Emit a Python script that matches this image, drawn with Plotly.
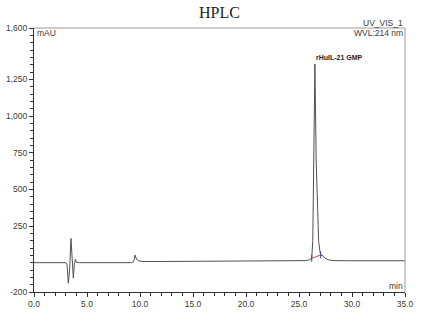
import plotly.graph_objects as go

# Chromatogram (time in min, signal in mAU)
time_min = [0.0, 3.0, 3.12, 3.24, 3.36, 3.49, 3.6, 3.71, 3.8, 3.9, 4.02, 4.3,
            9.2, 9.4, 9.53, 9.68, 9.9, 10.3, 12.0, 15.0, 20.0, 25.0, 25.7,
            26.0, 26.2, 26.3, 26.38, 26.5, 26.62, 26.75, 26.85, 26.95, 27.05,
            27.2, 27.45, 27.77, 28.2, 30.0, 35.0]
signal_mau = [0, 0, -15, -140, -50, 165, 30, -105, -20, 22, 2, 0,
              0, 6, 52, 22, 12, 8, 8, 9, 10, 10, 14,
              20, 30, 150, 700, 1355, 700, 300, 150, 90, 48,
              52, 30, 20, 14, 13, 13]

# Integration baseline of the main peak
base_time = [26.2, 27.05]
base_mau = [30, 53]

peak_label = "rHuIL-21 GMP"
peak_time = 26.5
peak_height = 1355

y_tickvals = [1600, 1250, 1000, 750, 500, 250, -200]
y_ticktext = ["1,600", "1,250", "1,000", "750", "500", "250", "-200"]
x_tickvals = [0, 5, 10, 15, 20, 25, 30, 35]
x_ticktext = ["0.0", "5.0", "10.0", "15.0", "20.0", "25.0", "30.0", "35.0"]

tick_font = dict(family="Liberation Sans, Arial, sans-serif", size=8.5, color="#3a3a3a")

fig = go.Figure()
fig.add_trace(go.Scatter(x=time_min, y=signal_mau, mode="lines",
                         line=dict(color="#505050", width=1), hoverinfo="skip"))
fig.add_trace(go.Scatter(x=base_time, y=base_mau, mode="lines+markers",
                         line=dict(color="#e04040", width=1),
                         marker=dict(symbol="line-ns", size=5, color="#4040a0",
                                     line=dict(width=1, color="#4040a0")),
                         hoverinfo="skip"))

fig.update_layout(
    width=424, height=322,
    margin=dict(l=34, r=19, t=28, b=30, autoexpand=False),
    paper_bgcolor="white", plot_bgcolor="white",
    showlegend=False,
    xaxis=dict(range=[0, 35], tickvals=x_tickvals, ticktext=x_ticktext,
               ticks="outside", ticklen=4, tickcolor="#333333", tickwidth=1,
               showline=True, linecolor="#333333", linewidth=1, automargin=False,
               showgrid=False, zeroline=False, tickfont=tick_font,
               minor=dict(dtick=1, ticks="outside", ticklen=3, tickcolor="#333333", showgrid=False)),
    yaxis=dict(range=[-200, 1600], tickvals=y_tickvals, ticktext=y_ticktext,
               ticks="outside", ticklen=4, tickcolor="#333333", tickwidth=1,
               showline=True, linecolor="#333333", linewidth=1, automargin=False,
               showgrid=False, zeroline=False, tickfont=tick_font,
               minor=dict(tick0=0, dtick=50, ticks="outside", ticklen=3, tickcolor="#333333", showgrid=False)),
    shapes=[
        dict(type="line", xref="paper", yref="paper", x0=0, x1=1, y0=1, y1=1,
             line=dict(color="#999999", width=1)),
        dict(type="line", xref="paper", yref="paper", x0=1, x1=1, y0=0, y1=1,
             line=dict(color="#999999", width=1)),
    ],
)

lab_font = dict(family="Liberation Sans, Arial, sans-serif", size=8.5, color="#3a3a3a")
fig.add_annotation(text="HPLC", xref="paper", yref="paper", x=0.5, y=1, yshift=16,
                   showarrow=False, xanchor="center", yanchor="middle",
                   font=dict(family="Liberation Serif, Times New Roman, serif", size=16, color="#222222"))
fig.add_annotation(text="UV_VIS_1", xref="paper", yref="paper", x=1, y=1, yshift=5,
                   showarrow=False, xanchor="right", yanchor="middle", font=lab_font)
fig.add_annotation(text="WVL:214 nm", xref="paper", yref="paper", x=1, y=1, yshift=-5,
                   showarrow=False, xanchor="right", yanchor="middle", font=lab_font)
fig.add_annotation(text="mAU", xref="paper", yref="paper", x=0, y=1, yshift=-5, xshift=1,
                   showarrow=False, xanchor="left", yanchor="middle", font=lab_font)
fig.add_annotation(text="min", xref="paper", yref="paper", x=1, y=0, yshift=6,
                   showarrow=False, xanchor="right", yanchor="middle", font=lab_font)
fig.add_annotation(text="<b>" + peak_label + "</b>", x=peak_time, y=peak_height,
                   xref="x", yref="y", yshift=1, xshift=-1,
                   showarrow=False, xanchor="left", yanchor="bottom",
                   font=dict(family="Liberation Sans, Arial, sans-serif", size=7, color="#222222"))

fig.write_html("out.html")
